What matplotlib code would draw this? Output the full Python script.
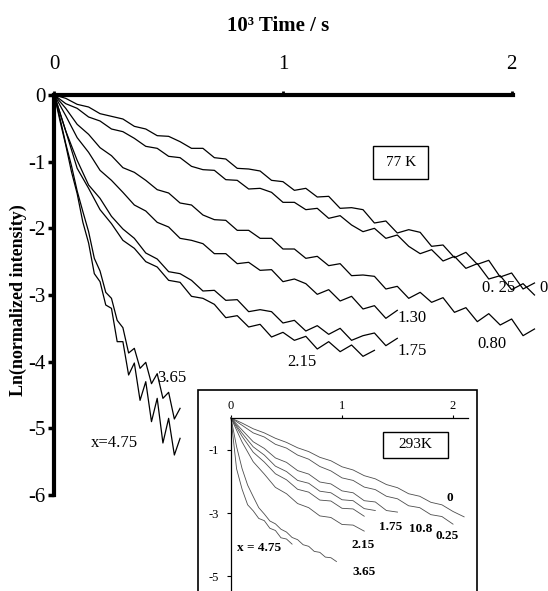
import numpy as np
import matplotlib.pyplot as plt
from matplotlib.patches import Rectangle

plt.rcParams['font.family'] = ['Liberation Serif', 'DejaVu Serif']
plt.rcParams['axes.unicode_minus'] = False

# ---- 77 K decay curves (main panel), time in 10^3 s ----
t_long = np.arange(43) * 0.05      # 0 .. 2.10
t_mid = np.arange(31) * 0.05       # 0 .. 1.50
t_215 = np.arange(29) * 0.05       # 0 .. 1.40
t_fast = np.arange(23) * 0.025     # 0 .. 0.55

y_0 = [0, -0.05, -0.14, -0.18, -0.28, -0.32, -0.36, -0.47, -0.51, -0.61, -0.62,
       -0.70, -0.80, -0.80, -0.94, -0.96, -1.10, -1.11, -1.14, -1.28, -1.30,
       -1.43, -1.40, -1.53, -1.52, -1.70, -1.69, -1.72, -1.92, -1.89, -2.07,
       -2.02, -2.06, -2.27, -2.25, -2.44, -2.36, -2.54, -2.48, -2.73, -2.67,
       -2.91, -2.82]
y_025 = [0, -0.13, -0.20, -0.33, -0.39, -0.51, -0.55, -0.65, -0.77, -0.80, -0.92,
         -0.94, -1.07, -1.12, -1.13, -1.27, -1.28, -1.41, -1.40, -1.46, -1.61,
         -1.61, -1.72, -1.70, -1.85, -1.81, -1.95, -2.05, -2.00, -2.15, -2.10,
         -2.27, -2.38, -2.32, -2.49, -2.42, -2.60, -2.53, -2.76, -2.71, -2.92,
         -2.83, -3.00]
y_080 = [0, -0.20, -0.44, -0.59, -0.79, -0.91, -1.09, -1.16, -1.28, -1.42, -1.47,
         -1.62, -1.65, -1.80, -1.87, -1.88, -2.03, -2.03, -2.15, -2.15, -2.31,
         -2.31, -2.45, -2.42, -2.56, -2.53, -2.71, -2.70, -2.72, -2.91, -2.87,
         -3.05, -2.96, -3.11, -3.04, -3.26, -3.19, -3.40, -3.28, -3.45, -3.36,
         -3.61, -3.51]
y_130 = [0, -0.31, -0.64, -0.86, -1.13, -1.28, -1.46, -1.65, -1.74, -1.91, -1.98,
         -2.15, -2.18, -2.23, -2.38, -2.38, -2.53, -2.51, -2.63, -2.62, -2.80,
         -2.76, -2.83, -2.99, -2.92, -3.09, -3.02, -3.21, -3.16, -3.35, -3.23]
y_175 = [0, -0.54, -0.98, -1.35, -1.55, -1.82, -2.01, -2.15, -2.37, -2.46, -2.65,
         -2.68, -2.78, -2.94, -2.93, -3.08, -3.07, -3.25, -3.22, -3.25, -3.42,
         -3.38, -3.54, -3.46, -3.59, -3.50, -3.68, -3.61, -3.57, -3.76, -3.65]
y_215 = [0, -0.54, -1.10, -1.40, -1.72, -1.93, -2.18, -2.30, -2.50, -2.58, -2.78,
         -2.81, -3.02, -3.05, -3.14, -3.34, -3.31, -3.48, -3.44, -3.63, -3.56,
         -3.68, -3.62, -3.81, -3.70, -3.85, -3.75, -3.92, -3.83]
y_365 = [0, -0.35, -0.73, -1.06, -1.44, -1.75, -2.05, -2.45, -2.64, -2.96, -3.05,
         -3.38, -3.49, -3.87, -3.80, -4.10, -4.01, -4.33, -4.18, -4.55, -4.46,
         -4.86, -4.70]
y_475 = [0, -0.39, -0.75, -1.15, -1.48, -1.91, -2.22, -2.68, -2.80, -3.15, -3.20,
         -3.70, -3.70, -4.20, -4.02, -4.58, -4.30, -4.90, -4.55, -5.22, -4.85,
         -5.40, -5.15]

main_curves = [(t_long, y_0), (t_long, y_025), (t_long, y_080), (t_mid, y_130),
               (t_mid, y_175), (t_215, y_215), (t_fast, y_365), (t_fast, y_475)]
main_labels = ['0', '0. 25', '0.80', '1.30', '1.75', '2.15', '3.65', 'x=4.75']
main_label_pos = [(2.12, -2.89), (1.87, -2.89), (1.85, -3.74), (1.50, -3.34),
                  (1.50, -3.84), (1.02, -4.0), (0.45, -4.24), (0.16, -5.22)]

# ---- 293 K decay curves (inset) ----
ti_0 = np.arange(22) * 0.1
ti_025 = np.arange(21) * 0.1
ti_080 = np.arange(16) * 0.1
ti_130 = np.arange(14) * 0.1
ti_175 = np.arange(13) * 0.1
ti_215 = np.arange(13) * 0.1
ti_365 = np.arange(20) * 0.05
ti_475 = np.arange(12) * 0.05

yi_0 = [0, -0.16, -0.34, -0.47, -0.64, -0.77, -0.94, -1.06, -1.24, -1.35, -1.54,
        -1.64, -1.82, -1.92, -2.10, -2.20, -2.39, -2.47, -2.66, -2.74, -2.95, -3.12]
yi_025 = [0, -0.23, -0.47, -0.60, -0.83, -0.95, -1.17, -1.30, -1.53, -1.67, -1.89,
          -1.97, -2.18, -2.26, -2.47, -2.55, -2.77, -2.83, -3.05, -3.11, -3.35]
yi_080 = [0, -0.38, -0.75, -0.96, -1.26, -1.40, -1.66, -1.77, -2.02, -2.08, -2.30,
          -2.36, -2.61, -2.65, -2.92, -2.97]
yi_130 = [0, -0.48, -0.91, -1.17, -1.52, -1.69, -1.97, -2.06, -2.31, -2.36, -2.58,
          -2.61, -2.86, -2.92]
yi_175 = [0, -0.58, -1.08, -1.39, -1.76, -1.95, -2.25, -2.34, -2.59, -2.62, -2.85,
          -2.87, -3.10]
yi_215 = [0, -0.76, -1.38, -1.77, -2.19, -2.39, -2.70, -2.83, -3.09, -3.14, -3.36,
          -3.38, -3.57]
yi_365 = [0, -0.9, -1.6, -2.12, -2.48, -2.83, -3.03, -3.25, -3.34, -3.51, -3.60,
          -3.77, -3.84, -4.00, -4.05, -4.21, -4.24, -4.39, -4.41, -4.53]
yi_475 = [0, -1.6, -2.25, -2.74, -2.93, -3.17, -3.24, -3.48, -3.55, -3.78, -3.82,
          -3.98]

inset_curves = [(ti_0, yi_0), (ti_025, yi_025), (ti_080, yi_080), (ti_130, yi_130),
                (ti_175, yi_175), (ti_215, yi_215), (ti_365, yi_365), (ti_475, yi_475)]
inset_labels = ['0', '0.25', '10.8', '1.75', '2.15', '3.65', 'x = 4.75']
inset_label_pos = [(1.94, -2.53), (1.84, -3.72), (1.60, -3.5), (1.33, -3.43),
                   (1.09, -4.0), (1.09, -4.85), (0.05, -4.11)]

fig = plt.figure(figsize=(5.48, 5.91), dpi=100)

# main panel
ax = fig.add_axes([54.3 / 548, 1 - 495 / 591, (513 - 54.3) / 548, 400 / 591])
ax.patch.set_visible(False)
ax.set_xlim(0, 2.006)
ax.set_ylim(-6, 0)
for s in ['right', 'bottom']:
    ax.spines[s].set_visible(False)
for s in ['top', 'left']:
    ax.spines[s].set_linewidth(3)
ax.xaxis.tick_top()
ax.set_xticks([0, 1, 2])
ax.set_yticks([0, -1, -2, -3, -4, -5, -6])
ax.set_yticklabels(['0', '-1', '-2', '-3', '-4', '-5', '-6'])
ax.tick_params(axis='x', direction='out', length=3, width=2, labelsize=15, pad=12)
ax.tick_params(axis='y', direction='out', length=4, width=2.5, labelsize=15, pad=2)

for t, y in main_curves:
    ax.plot(t, y, color='black', lw=0.9, clip_on=False)
for lab, (x, y) in zip(main_labels, main_label_pos):
    ax.text(x, y, lab, fontsize=12, ha='left', va='center')

ax.add_patch(Rectangle((1.395, -1.265), 0.24, 0.5, fill=False, ec='black', lw=1.0))
ax.text(1.515, -1.015, '77 K', fontsize=11, ha='center', va='center')

fig.text(278 / 548, 1 - 26 / 591, '10³ Time / s', fontsize=15, fontweight='bold',
         ha='center', va='center')
fig.text(18 / 548, 1 - 300 / 591, 'Ln(normalized intensity)', fontsize=13,
         fontweight='bold', rotation=90, ha='center', va='center')

# inset panel
axi = fig.add_axes([231 / 548, 0, (468 - 231) / 548, (591 - 418) / 591])
axi.set_xlim(0, 2.135)
axi.set_ylim(-5.46, 0)
for s in ['right', 'bottom']:
    axi.spines[s].set_visible(False)
for s in ['top', 'left']:
    axi.spines[s].set_linewidth(0.9)
axi.xaxis.tick_top()
axi.set_xticks([0, 1, 2])
axi.set_yticks([-1, -3, -5])
axi.set_yticklabels(['-1', '-3', '-5'])
axi.tick_params(axis='x', direction='out', length=2, width=0.8, labelsize=9, pad=2)
axi.tick_params(axis='y', direction='out', length=3, width=0.8, labelsize=9, pad=6)

for t, y in inset_curves:
    axi.plot(t, y, color='0.3', lw=0.6, clip_on=False)
for lab, (x, y) in zip(inset_labels, inset_label_pos):
    axi.text(x, y, lab, fontsize=9.5, fontweight='bold', ha='left', va='center')

axi.add_patch(Rectangle((1.369, -1.26), 0.586, 0.82, fill=False, ec='black', lw=1.0))
axi.text(1.66, -0.85, '293K', fontsize=11, ha='center', va='center')

# outer frame of the inset
axi.add_patch(Rectangle((-0.139, -0.05), 1.177, 1.212, transform=axi.transAxes,
                        fill=False, ec='black', lw=1.2, clip_on=False))

fig.savefig('out.png', dpi=100)
